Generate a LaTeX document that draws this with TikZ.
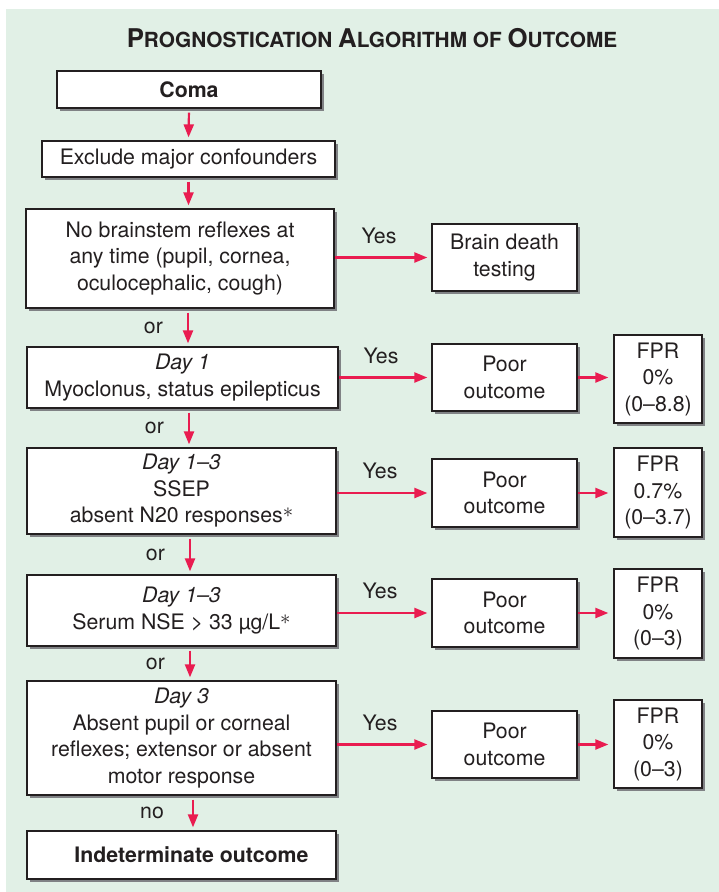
\documentclass[tikz,border=0pt]{standalone}
\usepackage{fontspec}
\setmainfont{TeX Gyre Heros}
\usepackage{xcolor}
\usetikzlibrary{arrows.meta, positioning, shadows}

\definecolor{panelgreen}{RGB}{225,240,230}
\definecolor{arrowred}{RGB}{233,28,80}
\definecolor{inkgray}{RGB}{35,31,32}
\definecolor{shadowgray}{RGB}{128,130,133}

\newcommand{\flowfont}{\fontsize{21.3}{26.5}\selectfont}
\newcommand{\bigletter}[1]{{\fontsize{25.8}{30}\selectfont #1}}
\newcommand{\footmark}{\raisebox{5pt}{$\ast$}}

\begin{document}
\begin{tikzpicture}[x=1pt, y=-1pt,
    box/.style={draw=inkgray, line width=1.3pt, fill=white, text=inkgray, font=\flowfont,
        align=center, inner sep=0pt,
        drop shadow={shadow xshift=3pt, shadow yshift=-3pt, fill=shadowgray, opacity=1}},
    arr/.style={draw=arrowred, line width=2.2pt, -{Triangle[length=13pt, width=10pt]},
        shorten <=4pt, shorten >=3pt},
    yesarr/.style={arr, shorten <=0pt, shorten >=4pt},
    fprarr/.style={arr, shorten <=0pt, shorten >=5pt},
    lab/.style={text=inkgray, font=\flowfont, inner sep=0pt}]
    \useasboundingbox (0,0) rectangle (719,892);
    \fill[panelgreen] (6,9) rectangle (719,892);

    % title
    \node[anchor=base, text=inkgray, font=\bfseries\fontsize{20.8}{25}\selectfont] (title) at (372,47)
        {\bigletter{P}ROGNOSTICATION \bigletter{A}LGORITHM OF \bigletter{O}UTCOME};

    % main column
    \node[box, minimum width=264pt, minimum height=37pt, font=\flowfont\bfseries] (coma) at (189,89.5) {Coma};
    \node[box, minimum width=293pt, minimum height=36pt] (excl) at (188.5,159) {Exclude major confounders};
    \node[box, minimum width=308pt, minimum height=99pt] (nobs) at (180,258.5)
        {No brainstem reflexes at\\any time (pupil, cornea,\\oculocephalic, cough)};
    \node[box, minimum width=311pt, minimum height=61pt] (day1) at (182.5,377.5)
        {\textit{Day 1}\\Myoclonus, status epilepticus};
    \node[box, minimum width=309pt, minimum height=86pt] (ssep) at (181.5,491)
        {\textit{Day 1--3}\\SSEP\\absent N20 responses\footmark};
    \node[box, minimum width=309pt, minimum height=71pt] (nse) at (181.5,610.5)
        {\textit{Day 1--3}\\Serum NSE > 33 µg/L\footmark};
    \node[box, minimum width=309pt, minimum height=114pt] (day3) at (181.5,738)
        {\textit{Day 3}\\Absent pupil or corneal\\reflexes; extensor or absent\\motor response};
    \node[box, minimum width=309pt, minimum height=48pt, font=\flowfont\bfseries] (indet) at (181.5,855)
        {\hspace*{20pt}Indeterminate outcome};

    % outcome column
    \node[box, minimum width=145pt, minimum height=67pt] (bdt) at (504.5,257.5) {Brain death\\testing};
    \node[box, minimum width=145pt, minimum height=67pt] (poor1) at (504.5,377.5) {Poor\\outcome};
    \node[box, minimum width=145pt, minimum height=68pt] (poor2) at (504.5,493) {Poor\\outcome};
    \node[box, minimum width=145pt, minimum height=68pt] (poor3) at (504.5,613) {Poor\\outcome};
    \node[box, minimum width=145pt, minimum height=67pt] (poor4) at (504.5,744.5) {Poor\\outcome};

    % false positive rates
    \node[box, minimum width=88pt, minimum height=88pt] (fpr1) at (658,379) {FPR\\0\%\\(0--8.8)};
    \node[box, minimum width=88pt, minimum height=89pt] (fpr2) at (658,492.5) {FPR\\0.7\%\\(0--3.7)};
    \node[box, minimum width=88pt, minimum height=89pt] (fpr3) at (658,613.5) {FPR\\0\%\\(0--3)};
    \node[box, minimum width=88pt, minimum height=88pt] (fpr4) at (658,744) {FPR\\0\%\\(0--3)};

    % downward arrows
    \draw[arr] (coma.south) -- (excl.north);
    \draw[arr] (excl.south) -- (excl.south |- nobs.north);
    \draw[arr] ([xshift=8pt]nobs.south) -- ([xshift=8pt]nobs.south |- day1.north)
        node[lab, midway, left=24pt] {or};
    \draw[arr] ([xshift=6.5pt]day1.south) -- ([xshift=6.5pt]day1.south |- ssep.north)
        node[lab, midway, left=24pt] {or};
    \draw[arr] ([xshift=8.5pt]ssep.south) -- ([xshift=8.5pt]ssep.south |- nse.north)
        node[lab, midway, left=24pt] {or};
    \draw[arr] ([xshift=8.5pt]nse.south) -- ([xshift=8.5pt]nse.south |- day3.north)
        node[lab, midway, left=24pt] {or};
    \draw[arr] ([xshift=11.5pt]day3.south) -- ([xshift=11.5pt]day3.south |- indet.north)
        node[lab, midway, left=28pt] {no};

    % yes branches
    \draw[yesarr] (nobs.east |- bdt.west) -- (bdt.west) node[lab, midway, above=13pt, xshift=-4pt] {Yes};
    \draw[yesarr] (day1.east |- poor1.west) -- (poor1.west) node[lab, midway, above=13pt, xshift=-4pt] {Yes};
    \draw[yesarr] (ssep.east |- poor2.west) -- (poor2.west) node[lab, midway, above=13pt, xshift=-4pt] {Yes};
    \draw[yesarr] (nse.east |- poor3.west) -- (poor3.west) node[lab, midway, above=13pt, xshift=-4pt] {Yes};
    \draw[yesarr] (day3.east |- poor4.west) -- (poor4.west) node[lab, midway, above=13pt, xshift=-4pt] {Yes};

    \draw[fprarr] (poor1.east) -- (poor1.east -| fpr1.west);
    \draw[fprarr] (poor2.east) -- (poor2.east -| fpr2.west);
    \draw[fprarr] (poor3.east) -- (poor3.east -| fpr3.west);
    \draw[fprarr] (poor4.east) -- (poor4.east -| fpr4.west);
\end{tikzpicture}
\end{document}
